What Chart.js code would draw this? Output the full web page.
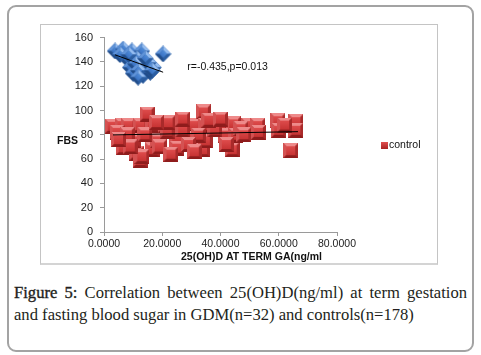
<!DOCTYPE html>
<html><head><meta charset="utf-8">
<script src="https://cdn.jsdelivr.net/npm/chart.js@4.4.0/dist/chart.umd.min.js"></script>
<style>
html,body{margin:0;padding:0;background:#fff;width:481px;height:355px;overflow:hidden;}
#outer{position:absolute;left:7px;top:5px;width:467px;height:347px;box-sizing:border-box;border:2px solid #a3a3a3;border-radius:9px;}
#frame{position:absolute;left:40px;top:24px;width:398px;height:241px;box-sizing:border-box;border:1px solid #c4c4c4;border-bottom:2px solid #d4d4d4;}
#c{position:absolute;left:40px;top:24px;}
.cap{position:absolute;left:14px;width:453px;font-family:"Liberation Serif","DejaVu Serif",serif;font-size:16.6px;line-height:22px;color:#231f20;white-space:nowrap;}
#cap1{top:282px;text-align:justify;text-align-last:justify;white-space:normal;}
#cap2{top:304px;}
.fig{-webkit-text-stroke:0.35px #231f20;}
</style></head><body>
<div id="outer"></div>
<div id="frame"></div>
<canvas id="c" width="397" height="240"></canvas>
<div class="cap" id="cap1"><span class="fig">Figure 5:</span> Correlation between 25(OH)D(ng/ml) at term gestation</div>
<div class="cap" id="cap2">and fasting blood sugar in GDM(n=32) and controls(n=178)</div>
<script>
// ---- data ----
const gdmX = [3.8, 6.6, 9.6, 13.0, 20.3, 7.9, 11.3, 9.0, 12.4, 10.0, 13.4, 15.9, 17.0, 15.2, 10.7, 5.5, 8.5, 14.2, 11.8, 16.5, 11.7];
const gdmY = [149, 150.6, 149, 149, 146.6, 142.6, 142.6, 135.5, 135.5, 130.7, 129, 131.5, 135.5, 139.4, 138.6, 146, 146, 143, 133, 133, 127.5];
const ctrlX = [2.8, 6.2, 8.3, 12.4, 16.6, 21, 25, 14.8, 6.6, 11.3, 16.5, 25, 30.7, 18.3, 10, 25, 30.7, 21.7, 34.1, 34.8, 40, 44.5, 49.7, 52.8, 59.7, 65.9, 60, 65.9, 33.8, 44, 64.1, 41.7, 45.2, 34.8, 32.4, 12.4, 4.5, 8, 14, 19, 22, 27, 29, 38, 42, 47, 62, 36, 23, 13, 9, 27, 18, 5, 48, 53, 31, 40];
const ctrlY = [87, 87.6, 87.6, 87.6, 87.6, 87.6, 87.6, 97, 69.3, 65, 67.7, 77, 87.6, 75, 75, 69, 77, 83, 98.8, 87.6, 89, 89, 87.6, 87.6, 91.6, 90.8, 83.7, 83.7, 67.7, 67.7, 66.9, 79.7, 79.7, 75, 79.7, 59, 82, 80, 80, 70, 90, 84, 72, 84, 72, 85, 88, 92, 64, 62, 70, 93, 90, 76, 80, 82, 66, 93];
const gdmTrendX = [3.8, 20.3];
const gdmTrendY = [145.8, 131.5];
const ctrlTrendX = [3.1, 66.6];
const ctrlTrendY = [79.9, 82.6];
const xTickLabels = ['0.0000', '20.0000', '40.0000', '60.0000', '80.0000'];
const yTickLabels = ['0', '20', '40', '60', '80', '100', '120', '140', '160'];
const annotText = 'r=-0.435,p=0.013';
const annotPos = [28.6, 136];
const legendLabel = 'control';
const yTitle = 'FBS';
const xTitle = '25(OH)D AT TERM GA(ng/ml';

// ---- marker images ----
function poly(g, pts, col){g.beginPath();g.moveTo(pts[0][0],pts[0][1]);for(let i=1;i<pts.length;i++)g.lineTo(pts[i][0],pts[i][1]);g.closePath();g.fillStyle=col;g.fill();}
function bevel(g, x0, y0, s, c){
  const b=3, x1=x0+s, y1=y0+s;
  g.fillStyle=c.edge; g.fillRect(x0,y0,s,s);
  poly(g,[[x0,y0],[x1,y0],[x1-b,y0+b],[x0+b,y0+b]],c.light);
  poly(g,[[x0,y0],[x0+b,y0+b],[x0+b,y1-b],[x0,y1]],c.left);
  poly(g,[[x1,y0],[x1,y1],[x1-b,y1-b],[x1-b,y0+b]],c.right);
  poly(g,[[x0,y1],[x0+b,y1-b],[x1-b,y1-b],[x1,y1]],c.dark);
  const gr=g.createLinearGradient(0,y0+b,0,y1-b); gr.addColorStop(0,c.f1); gr.addColorStop(1,c.f2);
  g.fillStyle=gr; g.fillRect(x0+b,y0+b,s-2*b,s-2*b);
}
const redC={edge:'#a82424',light:'#ee8a8a',left:'#d45252',right:'#a92a2a',dark:'#8e1c1c',f1:'#de4c4c',f2:'#c73333'};
const blueC={edge:'#2a5a9c',light:'#95bdf0',left:'#5f93d8',right:'#2c5fa3',dark:'#214d8a',f1:'#4f8bd9',f2:'#3a72c2'};
function makeSquare(){const s=15;const cv=document.createElement('canvas');cv.width=s;cv.height=s;bevel(cv.getContext('2d'),0,0,s,redC);return cv;}
function makeDiamond(){const d=17;const cv=document.createElement('canvas');cv.width=d;cv.height=d;const g=cv.getContext('2d');g.translate(d/2,d/2);g.rotate(Math.PI/4);const s=11.5;bevel(g,-s/2,-s/2,s,blueC);return cv;}
const redImg=makeSquare(), blueImg=makeDiamond();

const pts=(xs,ys)=>xs.map((x,i)=>({x:x,y:ys[i]}));

const overlay={
  id:'overlay',
  afterDraw(chart){
    const g=chart.ctx, xs=chart.scales.x, ys=chart.scales.y;
    g.save();
    g.fillStyle='#111';
    g.textBaseline='middle';
    g.font='bold 10.5px "Liberation Sans", Arial, sans-serif';
    g.textAlign='left';
    g.fillText(yTitle,17,117);
    g.textAlign='center';
    g.fillText(xTitle,211.5,233);
    g.font='10.5px "Liberation Sans", Arial, sans-serif';
    g.textAlign='left';
    g.fillText(annotText,xs.getPixelForValue(annotPos[0]),ys.getPixelForValue(annotPos[1]));
    // legend
    const lx=341, ly=118, ls=7;
    const gr=g.createLinearGradient(0,ly,0,ly+ls);gr.addColorStop(0,'#e05050');gr.addColorStop(1,'#a82222');
    g.fillStyle=gr;g.fillRect(lx,ly,ls,ls);
    g.fillStyle='#111';
    g.fillText(legendLabel,lx+ls+1,ly+ls/2);
    g.restore();
  }
};

new Chart(document.getElementById('c'),{
  type:'scatter',
  data:{datasets:[
    {label:'gdm trend',data:pts(gdmTrendX,gdmTrendY),showLine:true,borderColor:'#000',borderWidth:1,pointRadius:0,order:0},
    {label:'control trend',data:pts(ctrlTrendX,ctrlTrendY),showLine:true,borderColor:'#000',borderWidth:1,pointRadius:0,order:0},
    {label:'GDM',data:pts(gdmX,gdmY),pointStyle:blueImg,pointRadius:7,order:1},
    {label:legendLabel,data:pts(ctrlX,ctrlY),pointStyle:redImg,pointRadius:7,order:1}
  ]},
  options:{
    responsive:false,animation:false,
    layout:{padding:{left:0,top:7,right:100,bottom:0}},
    plugins:{legend:{display:false},tooltip:{enabled:false}},
    scales:{
      x:{type:'linear',min:0,max:80,
        ticks:{stepSize:20,color:'#222',font:{family:'"Liberation Sans", Arial, sans-serif',size:10.5},padding:2,
          callback:(v)=>xTickLabels[Math.round(v/20)]},
        grid:{display:true,drawOnChartArea:false,drawTicks:true,tickLength:4,color:'#9a9a9a'},
        border:{color:'#9a9a9a'},
        afterFit:(s)=>{s.height=32;}},
      y:{type:'linear',min:0,max:160,
        ticks:{stepSize:20,color:'#222',font:{family:'"Liberation Sans", Arial, sans-serif',size:11},padding:7,
          callback:(v)=>yTickLabels[Math.round(v/20)]},
        grid:{display:true,drawOnChartArea:false,drawTicks:true,tickLength:4,color:'#9a9a9a'},
        border:{color:'#9a9a9a'},
        afterFit:(s)=>{s.width=64;}}
    }
  },
  plugins:[overlay]
});
</script>
</body></html>
